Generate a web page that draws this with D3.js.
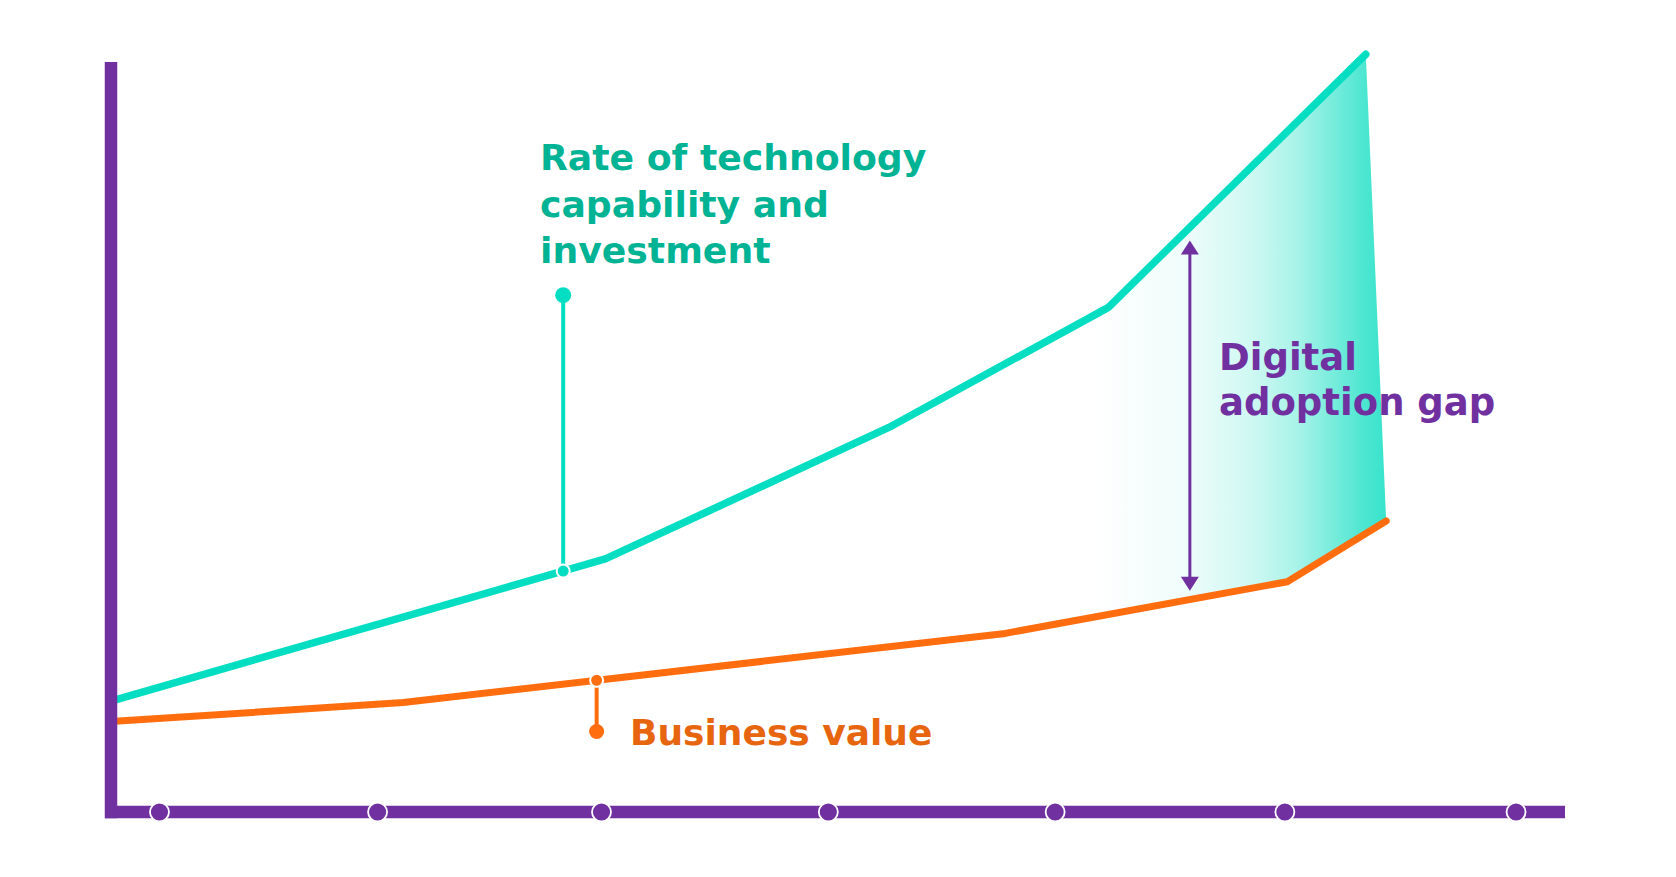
<!DOCTYPE html>
<html>
<head>
<meta charset="utf-8">
<script src="https://cdn.jsdelivr.net/npm/d3@7"></script>
<style>
  html, body { margin: 0; padding: 0; background: #ffffff; }
  svg { display: block; }
  text { font-family: "DejaVu Sans", sans-serif; font-weight: bold; }
</style>
</head>
<body>
<svg id="chart" width="1676" height="877"></svg>
<script>
// ---- data (abstract units: x 0..100 along time, y 0..100 level) ----
const tickValues = [3.3, 18.3, 33.7, 49.3, 64.9, 80.7, 96.6];

const techX = [0, 34.0, 53.5, 68.6, 86.3];
const techY = [14.6, 33.3, 50.6, 66.4, 99.7];

const valueX = [0, 20.1, 61.5, 80.9, 87.7];
const valueY = [11.9, 14.4, 23.5, 30.3, 38.3];

const techLabel = ["Rate of technology", "capability and", "investment"];
const valueLabel = ["Business value"];
const gapLabel = ["Digital", "adoption gap"];

const techMarker = { x: 31.1, yTop: 68.0 };
const valueMarker = { x: 33.4, yBottom: 10.6 };
const gapArrow = { x: 74.2, yTop: 75.2, yBottom: 29.1 };
const gapStartX = 67.5;

// ---- scales ----
const svg = d3.select("#chart");
const x = d3.scaleLinear().domain([0, 100]).range([111, 1565]);
const y = d3.scaleLinear().domain([0, 100]).range([812, 52]);

const PURPLE = "#7030A0";
const TEAL_LINE = "#03DEC2";
const TEAL_TEXT = "#00B394";
const ORANGE_LINE = "#FF6D0F";
const ORANGE_TEXT = "#E8650F";

const tech = techX.map((d, i) => [d, techY[i]]);
const value = valueX.map((d, i) => [d, valueY[i]]);

function interp(pts, xv) {
  for (let i = 0; i < pts.length - 1; i++) {
    if (xv >= pts[i][0] && xv <= pts[i + 1][0]) {
      const t = (xv - pts[i][0]) / (pts[i + 1][0] - pts[i][0]);
      return pts[i][1] + t * (pts[i + 1][1] - pts[i][1]);
    }
  }
  return pts[pts.length - 1][1];
}

// ---- gradient fill for the gap ----
const defs = svg.append("defs");
const grad = defs.append("linearGradient")
  .attr("id", "gapGrad")
  .attr("gradientUnits", "userSpaceOnUse")
  .attr("x1", x(gapStartX)).attr("x2", x(valueX[valueX.length - 1]))
  .attr("y1", 0).attr("y2", 0);
[[0, 0], [0.3, 0.07], [0.53, 0.22], [0.7, 0.42], [0.93, 0.86], [1, 0.95]].forEach(([o, a]) => {
  grad.append("stop").attr("offset", o).attr("stop-color", "#2EE2C9").attr("stop-opacity", a);
});

const gapTop = [[gapStartX, interp(tech, gapStartX)]].concat(tech.filter(p => p[0] > gapStartX));
const gapBottom = [[gapStartX, interp(value, gapStartX)]].concat(value.filter(p => p[0] > gapStartX));
const poly = gapTop.concat(gapBottom.slice().reverse());
svg.append("path")
  .attr("d", d3.line().x(d => x(d[0])).y(d => y(d[1]))(poly) + "Z")
  .attr("fill", "url(#gapGrad)");

// ---- lines ----
const line = d3.line().x(d => x(d[0])).y(d => y(d[1]));
svg.append("path").attr("d", line(value))
  .attr("fill", "none").attr("stroke", ORANGE_LINE).attr("stroke-width", 7)
  .attr("stroke-linejoin", "round").attr("stroke-linecap", "round");
svg.append("path").attr("d", line(tech))
  .attr("fill", "none").attr("stroke", TEAL_LINE).attr("stroke-width", 7.5)
  .attr("stroke-linejoin", "round").attr("stroke-linecap", "round");

// ---- axes ----
const yAxisG = svg.append("g").attr("transform", `translate(${x(0)},0)`)
  .call(d3.axisLeft(y).tickValues([]).tickSize(0));
yAxisG.select(".domain").remove();
yAxisG.append("line")
  .attr("x1", 0).attr("x2", 0).attr("y1", 62).attr("y2", y(0) + 6.25)
  .attr("stroke", PURPLE).attr("stroke-width", 12.5);

const xAxisG = svg.append("g").attr("transform", `translate(0,${y(0)})`)
  .call(d3.axisBottom(x).tickValues(tickValues).tickSize(0).tickFormat(""));
xAxisG.select(".domain").remove();
xAxisG.insert("line", ":first-child")
  .attr("x1", 105).attr("x2", x(100)).attr("y1", 0).attr("y2", 0)
  .attr("stroke", PURPLE).attr("stroke-width", 12.5);
xAxisG.selectAll(".tick").append("circle")
  .attr("r", 9.5).attr("fill", PURPLE).attr("stroke", "#ffffff").attr("stroke-width", 1.8);

// ---- teal marker ----
const tmY = interp(tech, techMarker.x);
svg.append("line")
  .attr("x1", x(techMarker.x)).attr("x2", x(techMarker.x))
  .attr("y1", y(techMarker.yTop)).attr("y2", y(tmY))
  .attr("stroke", TEAL_LINE).attr("stroke-width", 4);
svg.append("circle").attr("cx", x(techMarker.x)).attr("cy", y(techMarker.yTop))
  .attr("r", 8).attr("fill", TEAL_LINE);
svg.append("circle").attr("cx", x(techMarker.x)).attr("cy", y(tmY))
  .attr("r", 6.5).attr("fill", TEAL_LINE).attr("stroke", "#fff").attr("stroke-width", 2);

// ---- orange marker ----
const omY = interp(value, valueMarker.x);
svg.append("line")
  .attr("x1", x(valueMarker.x)).attr("x2", x(valueMarker.x))
  .attr("y1", y(omY)).attr("y2", y(valueMarker.yBottom))
  .attr("stroke", ORANGE_LINE).attr("stroke-width", 4);
svg.append("circle").attr("cx", x(valueMarker.x)).attr("cy", y(valueMarker.yBottom))
  .attr("r", 7.5).attr("fill", ORANGE_LINE);
svg.append("circle").attr("cx", x(valueMarker.x)).attr("cy", y(omY))
  .attr("r", 6.5).attr("fill", ORANGE_LINE).attr("stroke", "#fff").attr("stroke-width", 2);

// ---- gap arrow ----
const ax = x(gapArrow.x), at = y(gapArrow.yTop), ab = y(gapArrow.yBottom);
svg.append("line").attr("x1", ax).attr("x2", ax).attr("y1", at + 10).attr("y2", ab - 10)
  .attr("stroke", PURPLE).attr("stroke-width", 3);
svg.append("path").attr("d", `M${ax},${at} L${ax - 9},${at + 14} L${ax + 9},${at + 14} Z`).attr("fill", PURPLE);
svg.append("path").attr("d", `M${ax},${ab} L${ax - 9},${ab - 14} L${ax + 9},${ab - 14} Z`).attr("fill", PURPLE);

// ---- labels ----
function label(lines, px, py, lh, color, size) {
  const t = svg.append("text").attr("x", px).attr("y", py)
    .attr("fill", color).attr("font-size", size);
  lines.forEach((s, i) => t.append("tspan").attr("x", px).attr("y", py + i * lh).text(s));
  return t;
}
label(techLabel, 540, 170, 46.5, TEAL_TEXT, 36.2);
label(gapLabel, 1219, 370, 45, PURPLE, 37);
label(valueLabel, 630, 745, 0, ORANGE_TEXT, 36);
</script>
</body>
</html>
